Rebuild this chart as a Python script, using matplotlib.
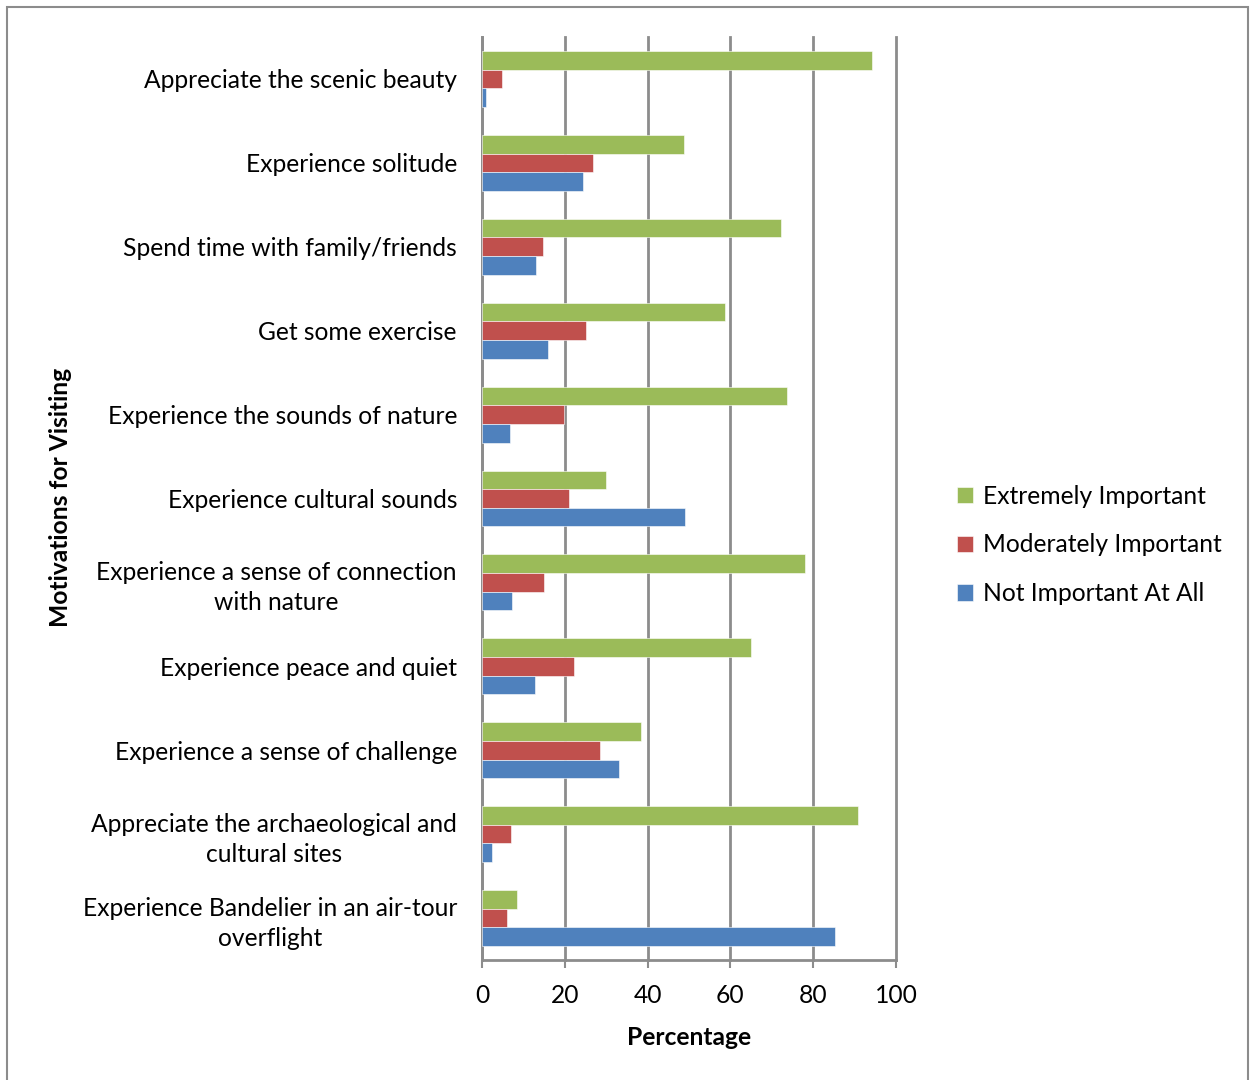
import matplotlib
matplotlib.use("Agg")
import matplotlib.pyplot as plt
from matplotlib.patches import Rectangle
import numpy as np

plt.rcParams['font.family'] = ['Lato', 'DejaVu Sans']

categories = [
    "Appreciate the scenic beauty",
    "Experience solitude",
    "Spend time with family/friends",
    "Get some exercise",
    "Experience the sounds of nature",
    "Experience cultural sounds",
    "Experience a sense of connection\nwith nature",
    "Experience peace and quiet",
    "Experience a sense of challenge",
    "Appreciate the archaeological and\ncultural sites",
    "Experience Bandelier in an air-tour\noverflight",
]
extremely = [94.3, 48.9, 72.3, 58.8, 73.6, 29.9, 77.9, 65.0, 38.5, 90.8, 8.4]
moderately = [4.9, 26.7, 14.7, 25.2, 19.7, 21.0, 15.0, 22.3, 28.4, 6.9, 6.1]
not_important = [0.9, 24.4, 13.0, 16.0, 6.8, 49.1, 7.2, 12.9, 33.2, 2.4, 85.3]
series_names = ["Extremely Important", "Moderately Important", "Not Important At All"]
colors = ["#9BBB59", "#C0504D", "#4F81BD"]
x_ticks = [0, 20, 40, 60, 80, 100]

W, H = 1250, 1080
FS = 17.7
fig = plt.figure(figsize=(W / 100, H / 100), dpi=100)

# outer chart border
fig.patches.append(Rectangle((7 / W, -0.01), (1248 - 7) / W, (H - 7) / H + 0.01,
                             transform=fig.transFigure, fill=False,
                             edgecolor="#8C8C8C", linewidth=1.5))

ax = fig.add_axes([482 / W, 120 / H, 414 / W, 923 / H])

y = np.arange(len(categories))
h = 0.222
bars = []
for offset, vals, col, name in zip((-h, 0, h), (extremely, moderately, not_important),
                                   colors, series_names):
    b = ax.barh(y + offset, vals, height=h, color=col, label=name,
                edgecolor="white", linewidth=0.4, zorder=3)
    bars.append(b)

ax.set_xlim(0, 100)
ax.set_ylim(len(categories) - 0.5, -0.5)
ax.set_xticks(x_ticks)
ax.set_xticklabels([str(t) for t in x_ticks])
ax.set_yticks(y)
ax.set_yticklabels(categories, multialignment="center", linespacing=1.35)

ax.grid(axis="x", color="#8C8C8C", linewidth=2, zorder=0)
for gl in ax.get_xgridlines():
    gl.set_clip_on(False)
ax.set_axisbelow(True)
for side in ("top", "right"):
    ax.spines[side].set_visible(False)
for side in ("left", "bottom"):
    ax.spines[side].set_color("#8C8C8C")
    ax.spines[side].set_linewidth(2)

ax.tick_params(axis="x", length=6, width=1.5, color="#8C8C8C", labelsize=FS,
               pad=11, labelcolor="black")
ax.tick_params(axis="y", length=0, labelsize=FS, pad=18, labelcolor="black")

ax.set_xlabel("Percentage", fontsize=FS, fontweight="bold", labelpad=14)
fig.text(60 / W, 1 - 497 / H, "Motivations for Visiting", rotation=90,
         fontsize=FS, fontweight="bold", ha="center", va="center")

fig.legend(handles=bars, labels=series_names, loc="center left",
           bbox_to_anchor=(935 / W, 1 - 545 / H), frameon=False, fontsize=FS,
           handlelength=0.65, handleheight=0.65, handletextpad=0.4,
           labelspacing=1.05)

fig.savefig("out.png", dpi=100, facecolor="white")
